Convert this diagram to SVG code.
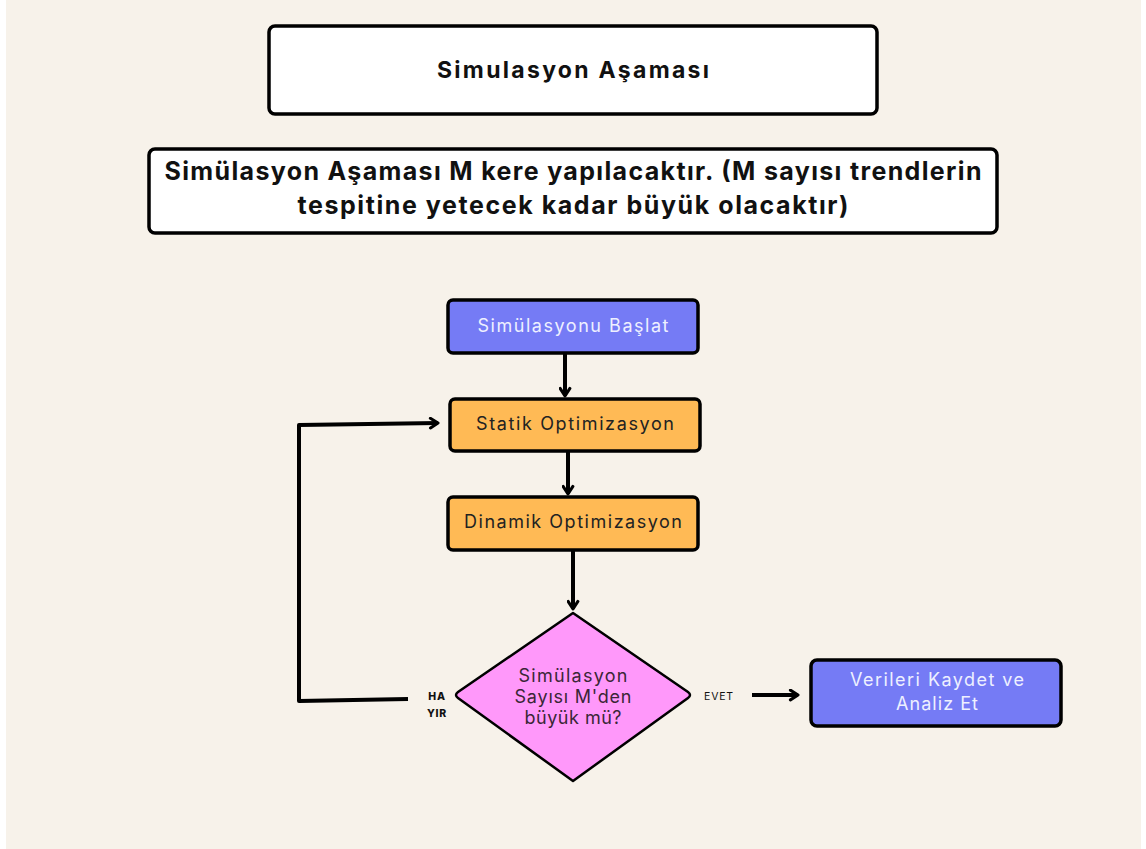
<svg xmlns="http://www.w3.org/2000/svg" width="1146" height="849" viewBox="0 0 1146 849">
  <style>
    .box { stroke: #000; stroke-width: 3.5; }
    .hdr { fill: #fff; }
    .blue { fill: #757BF5; }
    .orange { fill: #FFBA55; }
    .pink { fill: #FF98FA; }
    .t { font-family: Inter, "Open Sans", sans-serif; text-anchor: middle; }
    .hb { font-weight: 700; fill: #111; }
    .light { fill: #EEF0FF; font-size: 18px; }
    .dark { fill: #222; font-size: 18px; }
    .dtext { fill: #3A2636; font-size: 18px; }
    .lbl { font-size: 10.5px; fill: #111; }
    .conn { fill: none; stroke: #000; stroke-width: 4; stroke-linejoin: round; }
  </style>
  <defs>
    <marker id="arrow" viewBox="0 0 12 12" refX="9" refY="6" markerWidth="13" markerHeight="13" markerUnits="userSpaceOnUse" orient="auto">
      <path d="M2,1.5 L9,6 L2,10.5" fill="none" stroke="#000" stroke-width="2.8" stroke-linecap="round" stroke-linejoin="round"/>
    </marker>
  </defs>

  <!-- page -->
  <rect x="0" y="0" width="1146" height="849" fill="#fff"/>
  <rect x="6" y="0" width="1135" height="849" fill="#F7F2EA"/>

  <g id="title">
    <rect class="box hdr" x="269" y="26" width="608" height="88" rx="6"/>
    <text class="t hb" x="573" y="78" font-size="23" textLength="272" lengthAdjust="spacing">Simulasyon Aşaması</text>
  </g>

  <g id="note">
    <rect class="box hdr" x="149" y="149" width="848" height="84" rx="6"/>
    <text class="t hb" x="573" y="180" font-size="25" textLength="817" lengthAdjust="spacing">Simülasyon Aşaması M kere yapılacaktır. (M sayısı trendlerin</text>
    <text class="t hb" x="573" y="214" font-size="25" textLength="551" lengthAdjust="spacing">tespitine yetecek kadar büyük olacaktır)</text>
  </g>

  <g id="start">
    <rect class="box blue" x="448" y="300" width="250" height="53" rx="5"/>
    <text class="t light" x="573" y="332" textLength="191" lengthAdjust="spacing">Simülasyonu Başlat</text>
  </g>

  <g id="static">
    <rect class="box orange" x="450" y="399" width="250" height="52" rx="5"/>
    <text class="t dark" x="575" y="430" textLength="198" lengthAdjust="spacing">Statik Optimizasyon</text>
  </g>

  <g id="dynamic">
    <rect class="box orange" x="448" y="497" width="250" height="53" rx="5"/>
    <text class="t dark" x="573" y="528" textLength="218" lengthAdjust="spacing">Dinamik Optimizasyon</text>
  </g>

  <g id="decision">
    <path class="pink" d="M573,613 L688,692 Q692,695 688,698 L573,781 L458,698 Q454,695 458,692 Z" stroke="#000" stroke-width="2.5" stroke-linejoin="round"/>
    <text class="t dtext" x="573" y="682" textLength="109" lengthAdjust="spacing">Simülasyon</text>
    <text class="t dtext" x="573" y="703" textLength="117" lengthAdjust="spacing">Sayısı M'den</text>
    <text class="t dtext" x="573" y="724" textLength="97" lengthAdjust="spacing">büyük mü?</text>
  </g>

  <g id="save">
    <rect class="box blue" x="811" y="660" width="250" height="66" rx="6"/>
    <text class="t light" x="937" y="686" textLength="174" lengthAdjust="spacing">Verileri Kaydet ve</text>
    <text class="t light" x="937" y="710" textLength="82" lengthAdjust="spacing">Analiz Et</text>
  </g>

  <g id="connectors">
    <path class="conn" d="M565,354 L565,396" marker-end="url(#arrow)"/>
    <path class="conn" d="M568,452 L568,494" marker-end="url(#arrow)"/>
    <path class="conn" d="M573,551 L573,609" marker-end="url(#arrow)"/>
    <path class="conn" d="M408,699 L299,701 L299,425 L438,423" marker-end="url(#arrow)"/>
    <path class="conn" d="M752,695 L798,695" marker-end="url(#arrow)"/>
    <text class="t lbl" x="437" y="700" font-weight="800" letter-spacing="0.8">HA</text>
    <text class="t lbl" x="437" y="717" font-weight="800" letter-spacing="0.8">YIR</text>
    <text class="t lbl" x="719" y="700" letter-spacing="0.8">EVET</text>
  </g>
</svg>
